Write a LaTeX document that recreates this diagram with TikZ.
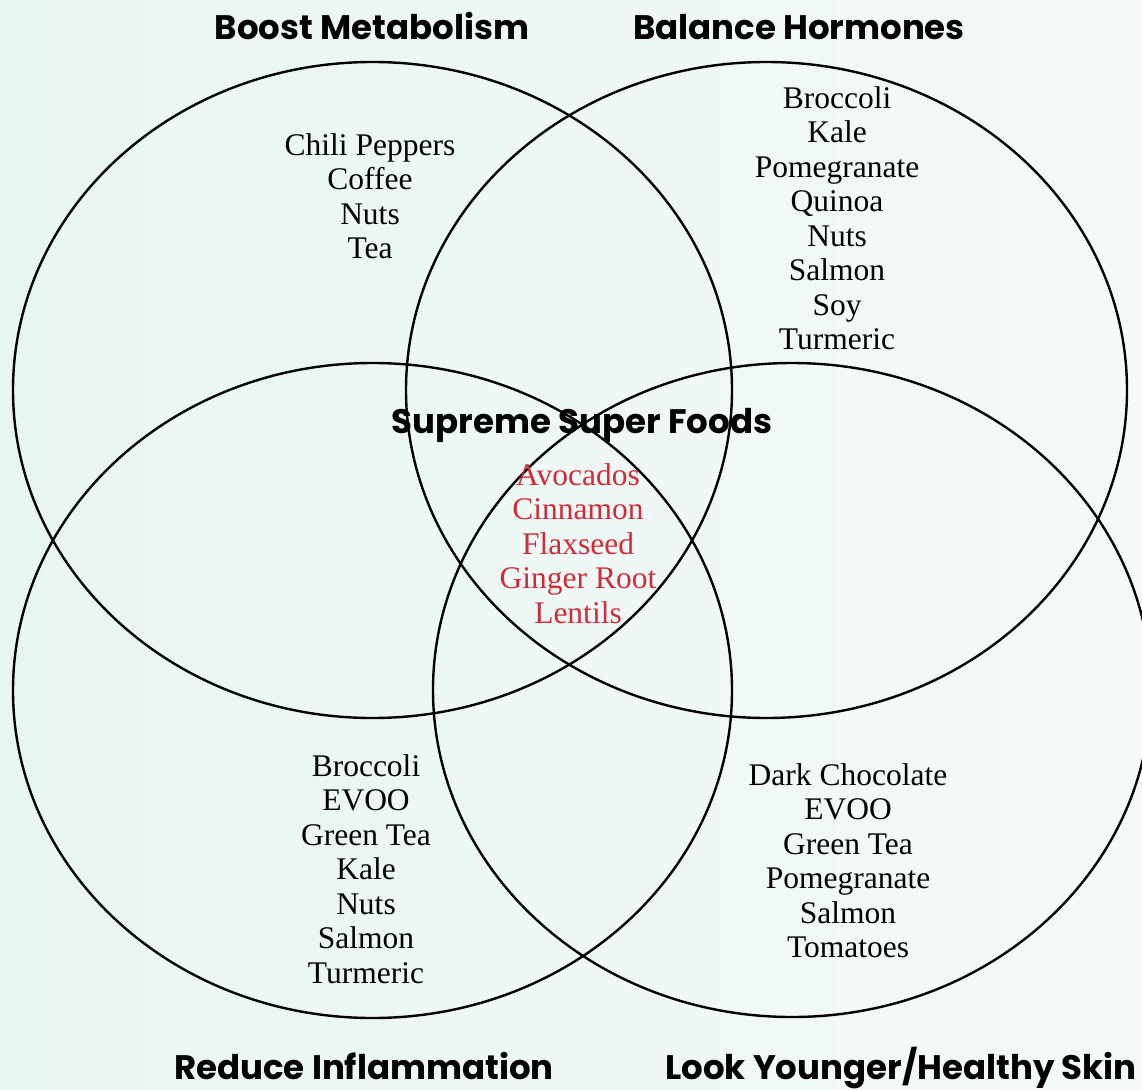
\documentclass[tikz,border=0pt]{standalone}
\usepackage{fontspec}
\setmainfont{Liberation Serif}
\newfontfamily\headfont{Poppins}
\definecolor{bgleft}{RGB}{232,246,241}
\definecolor{bgright}{RGB}{245,250,250}
\definecolor{foodred}{RGB}{211,43,56}

\begin{document}
\begin{tikzpicture}[x=1pt, y=-1pt, every node/.style={inner sep=0pt},
		ring/.style={draw=black, line width=2.4pt},
		head/.style={font=\headfont\bfseries\fontsize{34}{40}\selectfont, anchor=base},
		food/.style={font=\fontsize{31.5}{34.5}\selectfont, align=center, anchor=base}]
			\shade[left color=bgleft, right color=bgright] (0,0) rectangle (1142,1089);
			\useasboundingbox (0,0) rectangle (1142,1089);
			
			% the four sets
			\draw[ring] (372.5,390) ellipse [x radius=359.5, y radius=328];
			\draw[ring] (766.5,390) ellipse [x radius=360.5, y radius=328];
			\draw[ring] (372.5,690.5) ellipse [x radius=359.5, y radius=327.5];
			\draw[ring] (792,690) ellipse [x radius=359, y radius=327];
			
			\node[head] (boost) at (372,40) {Boost Metabolism};
			\node[head] (balance) at (799,40) {Balance Hormones};
			\node[head] (reduce) at (364,1079) {Reduce Inflammation};
			\node[head] (look) at (901,1079) {Look Younger/Healthy Skin};
			\node[head] (core) at (582,433) {Supreme Super Foods};
			
			% base = last line of each list
			\node[food] (fboost) at (370,258.5) {Chili Peppers\\Coffee\\Nuts\\Tea};
			\node[food] (fbalance) at (837,349.5) {Broccoli\\Kale\\Pomegranate\\Quinoa\\Nuts\\Salmon\\Soy\\Turmeric};
			\node[food] (freduce) at (366,983) {Broccoli\\EVOO\\Green Tea\\Kale\\Nuts\\Salmon\\Turmeric};
			\node[food] (flook) at (848,957.5) {Dark Chocolate\\EVOO\\Green Tea\\Pomegranate\\Salmon\\Tomatoes};
			\node[food, text=foodred] (fcore) at (578,623) {Avocados\\Cinnamon\\Flaxseed\\Ginger Root\\Lentils};
		\end{tikzpicture}
\end{document}
